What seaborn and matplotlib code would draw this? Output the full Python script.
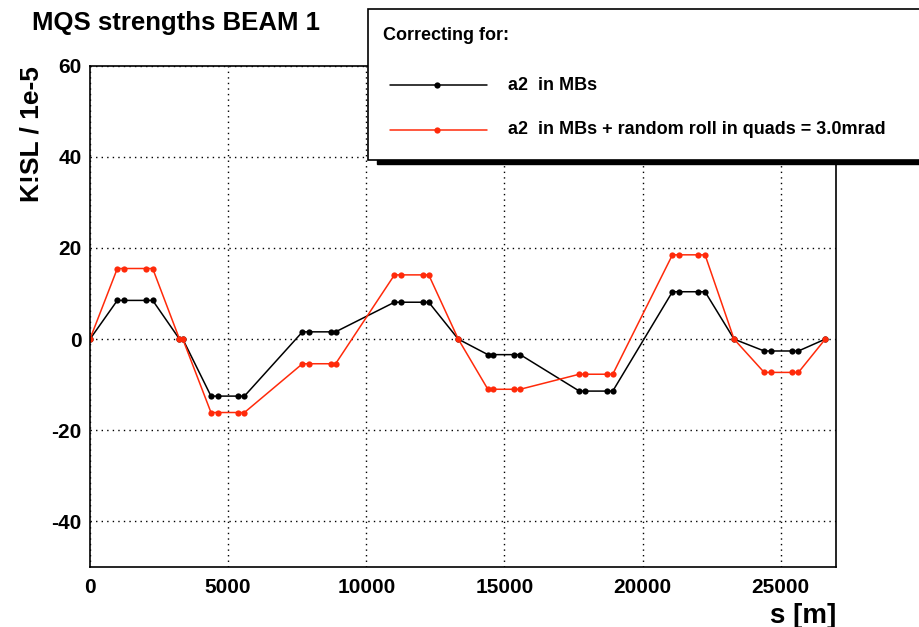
# MQS strengths BEAM 1 - ROOT style plot
import seaborn as sns
import matplotlib.pyplot as plt
import pandas as pd
from matplotlib.lines import Line2D
from matplotlib.patches import Rectangle
from matplotlib.ticker import MultipleLocator

# positions along the ring [m]
s_pos = [0, 990, 1240, 2030, 2270, 3240, 3360,
         4380, 4620, 5350, 5590, 7690, 7930, 8720, 8890,
         11020, 11260, 12040, 12260, 13330,
         14400, 14600, 15360, 15570, 17710, 17930, 18710, 18920,
         21080, 21320, 22020, 22260, 23310,
         24400, 24640, 25400, 25640, 26610]

# a2 in MBs
k_mbs = [0, 8.5, 8.5, 8.5, 8.5, 0, 0,
         -12.5, -12.5, -12.5, -12.5, 1.6, 1.6, 1.6, 1.6,
         8.1, 8.1, 8.1, 8.1, 0,
         -3.4, -3.4, -3.4, -3.4, -11.4, -11.4, -11.4, -11.4,
         10.4, 10.4, 10.4, 10.4, 0,
         -2.6, -2.6, -2.6, -2.6, 0]

# a2 in MBs + random roll in quads = 3.0mrad
k_roll = [0, 15.5, 15.5, 15.5, 15.5, 0, 0,
          -16.1, -16.1, -16.1, -16.1, -5.4, -5.4, -5.4, -5.4,
          14.1, 14.1, 14.1, 14.1, 0,
          -11.0, -11.0, -11.0, -11.0, -7.7, -7.7, -7.7, -7.7,
          18.5, 18.5, 18.5, 18.5, 0,
          -7.3, -7.3, -7.3, -7.3, 0]

labels = ["a2  in MBs", "a2  in MBs + random roll in quads = 3.0mrad"]
colors = ["black", "#ff2a0a"]

df = pd.DataFrame({"s": s_pos * 2, "k": k_mbs + k_roll,
                   "case": [labels[0]] * len(s_pos) + [labels[1]] * len(s_pos)})

sns.set_style("white")
plt.rcParams['font.family'] = ['Liberation Sans', 'DejaVu Sans']
plt.rcParams['font.weight'] = 'bold'
plt.rcParams['text.color'] = 'black'
plt.rcParams['axes.labelcolor'] = 'black'
plt.rcParams['xtick.color'] = 'black'
plt.rcParams['ytick.color'] = 'black'
plt.rcParams['axes.unicode_minus'] = False

fig = plt.figure(figsize=(9.19, 6.27), dpi=100)
ax = fig.add_axes([0.0979, 0.0957, 0.9097 - 0.0979, 0.8952 - 0.0957])

for lab, col in zip(labels, colors):
    sub = df[df["case"] == lab]
    sns.lineplot(data=sub, x="s", y="k", color=col, marker="o", markersize=4.5,
                 markeredgewidth=0, linewidth=1.1, sort=False, estimator=None, ax=ax)

ax.set_xlim(0, 27000)
ax.set_ylim(-50, 60)
ax.xaxis.set_major_locator(MultipleLocator(5000))
ax.xaxis.set_minor_locator(MultipleLocator(1000))
ax.yaxis.set_major_locator(MultipleLocator(20))
ax.yaxis.set_minor_locator(MultipleLocator(5))
ax.tick_params(axis="x", which="major", direction="in", length=16, width=1,
               labelsize=15, pad=8, top=False)
ax.tick_params(axis="x", which="minor", direction="in", length=8, width=1, top=False)
ax.tick_params(axis="y", which="major", direction="in", length=22, width=1,
               labelsize=15, pad=6, right=False)
ax.tick_params(axis="y", which="minor", direction="in", length=11, width=1, right=False)
ax.grid(True, which="major", linestyle=(0, (1, 3)), color="black", linewidth=1)
for sp in ax.spines.values():
    sp.set_color("black")
    sp.set_linewidth(1.2)

ax.set_xlabel("s [m]", fontsize=20, fontweight="bold", loc="right")
ax.set_ylabel("K!SL / 1e-5", fontsize=19, fontweight="bold", loc="top", labelpad=6)

fig.text(32 / 919, 1 - 23 / 627, "MQS strengths BEAM 1", fontsize=18.5,
         fontweight="bold", ha="left", va="center")

# legend box (ROOT TLegend style, runs off the right edge)
lx0, ly0, ly1 = 368 / 919, 1 - 160 / 627, 1 - 9 / 627
shadow = Rectangle((lx0 + 9 / 919, ly0 - 4 / 627), 1.0, ly1 - ly0, transform=fig.transFigure,
                   facecolor="black", edgecolor="black", zorder=9, clip_on=False)
box = Rectangle((lx0, ly0), 1.0, ly1 - ly0, transform=fig.transFigure,
                facecolor="white", edgecolor="black", linewidth=1.2, zorder=10, clip_on=False)
fig.add_artist(shadow)
fig.add_artist(box)
fig.text(383 / 919, 1 - 35 / 627, "Correcting for:", fontsize=13, fontweight="bold",
         ha="left", va="center", zorder=11)
for lab, col, yy in zip(labels, colors, [85, 130]):
    yf = 1 - yy / 627
    fig.add_artist(Line2D([390 / 919, 487 / 919], [yf, yf], color=col, linewidth=1.1,
                          transform=fig.transFigure, zorder=11))
    fig.add_artist(Line2D([437 / 919], [yf], color=col, marker="o", markersize=4.5,
                          markeredgewidth=0, transform=fig.transFigure, zorder=11))
    fig.text(508 / 919, yf, lab, fontsize=13, fontweight="bold", ha="left", va="center",
             zorder=11)

fig.savefig("out.png", dpi=100)
